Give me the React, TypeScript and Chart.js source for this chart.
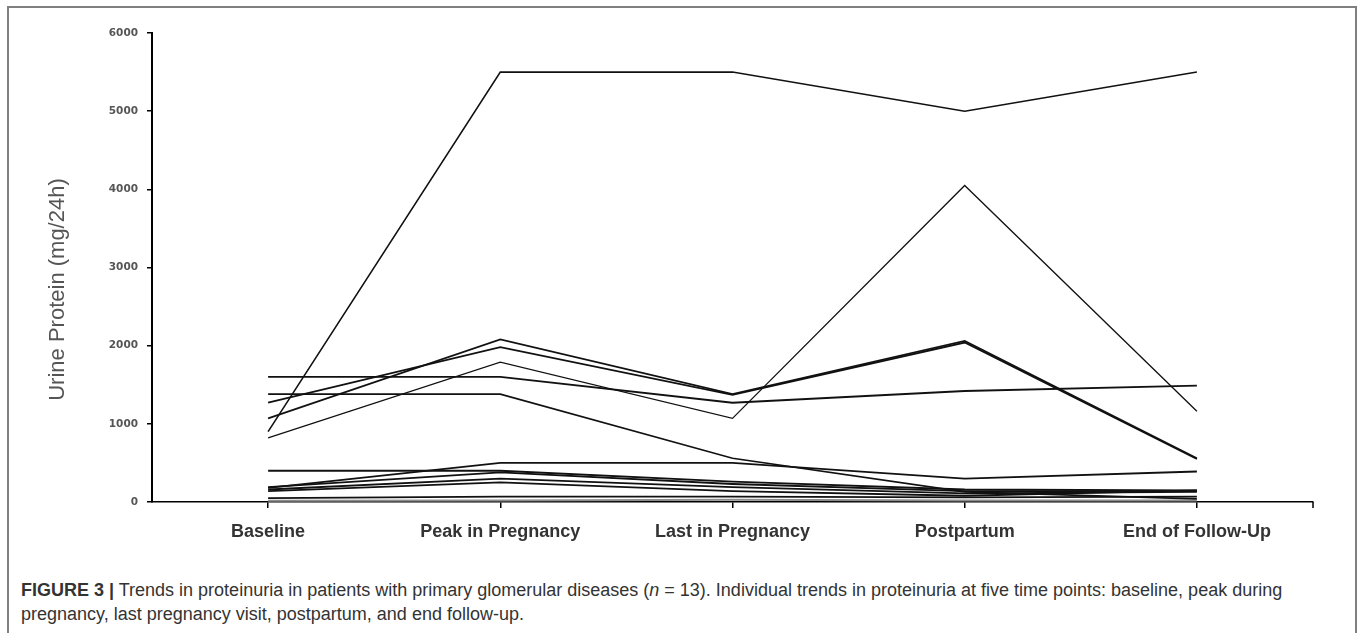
import React, { useEffect, useRef } from "react";
import { Chart, registerables } from "chart.js";

Chart.register(...registerables);

// ---- data ----
const timePoints = ["Baseline", "Peak in Pregnancy", "Last in Pregnancy", "Postpartum", "End of Follow-Up"];
const yTickValues = [0, 1000, 2000, 3000, 4000, 5000, 6000];
const yTitle = "Urine Protein (mg/24h)";

const patient01 = [900, 5500, 5500, 5000, 5500];
const patient02 = [1600, 1600, 1270, 1420, 1490];
const patient03 = [1380, 1380, 560, 130, 40];
const patient04 = [1070, 2080, 1380, 2060, 560];
const patient05 = [1270, 1980, 1370, 2040, 550];
const patient06 = [820, 1790, 1070, 4050, 1160];
const patient07 = [400, 400, 260, 160, 150];
const patient08 = [180, 500, 500, 300, 390];
const patient09 = [190, 380, 230, 140, 140];
const patient10 = [160, 300, 190, 110, 130];
const patient11 = [140, 250, 140, 80, 150];
const patient12 = [50, 70, 70, 60, 70];
const patient13 = [15, 20, 30, 20, 20];

const patients = [
  patient01, patient02, patient03, patient04, patient05, patient06, patient07,
  patient08, patient09, patient10, patient11, patient12, patient13,
];
const lineColors = [
  "#111", "#111", "#111", "#111", "#111", "#111", "#111",
  "#111", "#111", "#111", "#111", "#111", "#8c8c8c",
];
const lineWidths = [1.6, 1.8, 1.6, 1.8, 1.8, 1.3, 1.8, 1.8, 1.8, 1.8, 1.8, 1.8, 2];

const extras = {
  id: "extras",
  afterDraw(chart: any) {
    const { ctx, chartArea } = chart;
    ctx.save();
    ctx.strokeStyle = "#000";
    ctx.lineWidth = 1.5;
    ctx.beginPath();
    ctx.moveTo(chartArea.right, chartArea.bottom);
    ctx.lineTo(chartArea.right, chartArea.bottom + 6);
    ctx.stroke();
    ctx.translate(chartArea.left - 94, (chartArea.top + chartArea.bottom) / 2 + 22);
    ctx.rotate(-Math.PI / 2);
    ctx.font = '22px "Liberation Sans", Arial, sans-serif';
    ctx.fillStyle = "#555";
    ctx.textAlign = "center";
    ctx.textBaseline = "middle";
    ctx.fillText(yTitle, 0, 0);
    ctx.restore();
  },
};

export default function App() {
  const ref = useRef<HTMLCanvasElement | null>(null);

  useEffect(() => {
    if (!ref.current) return;
    const chart = new Chart(ref.current, {
      type: "line",
      data: {
        labels: timePoints,
        datasets: patients.map((vals, i) => ({
          label: "Patient " + (i + 1),
          data: vals,
          borderColor: lineColors[i],
          borderWidth: lineWidths[i],
          pointRadius: 0,
          fill: false,
          tension: 0,
        })),
      },
      options: {
        animation: false,
        responsive: false,
        layout: { padding: { left: 0, top: 33, right: 47, bottom: 0 } },
        plugins: { legend: { display: false }, tooltip: { enabled: false }, title: { display: false } },
        scales: {
          x: {
            type: "category",
            offset: true,
            afterFit: (s: any) => { s.height = 63; },
            grid: {
              display: true, drawOnChartArea: false, drawTicks: true, tickLength: 6,
              offset: false, color: "#000", lineWidth: 1.5,
            },
            border: { display: true, color: "#000", width: 1.5 },
            ticks: {
              color: "#333", padding: 13, maxRotation: 0, autoSkip: false,
              font: { family: '"Liberation Sans", Arial, sans-serif', size: 18, weight: "bold" },
            },
          },
          y: {
            min: 0, max: 6000,
            afterFit: (s: any) => { s.width = 152; },
            afterBuildTicks: (s: any) => { s.ticks = yTickValues.map((v) => ({ value: v })); },
            grid: {
              display: true, drawOnChartArea: false, drawTicks: true, tickLength: 5,
              color: "#000", lineWidth: 1.5,
            },
            border: { display: true, color: "#000", width: 2 },
            ticks: {
              color: "#555", padding: 9,
              callback: (v: any) => String(v),
              font: { family: '"DejaVu Sans", sans-serif', size: 10.5, weight: "bold" },
            },
          },
        },
      },
      plugins: [extras],
    });
    return () => chart.destroy();
  }, []);

  return (
    <div style={{ position: "absolute", left: 0, top: 0, width: 1360, height: 633, overflow: "hidden", background: "#fff" }}>
      <div style={{ position: "absolute", left: 7, top: 6, width: 1350, height: 700, border: "2px solid #808080", boxSizing: "border-box" }} />
      <canvas ref={ref} width={1360} height={565} style={{ position: "absolute", left: 0, top: 0 }} />
      <div style={{
        position: "absolute", left: 21, top: 578, whiteSpace: "nowrap",
        fontFamily: '"Liberation Sans", Arial, sans-serif', fontSize: 18, lineHeight: "24px", color: "#333",
      }}>
        <b>FIGURE 3 |</b> Trends in proteinuria in patients with primary glomerular diseases (<i>n</i> = 13). Individual trends in proteinuria at five time points: baseline, peak during
        <br />
        pregnancy, last pregnancy visit, postpartum, and end follow-up.
      </div>
    </div>
  );
}
